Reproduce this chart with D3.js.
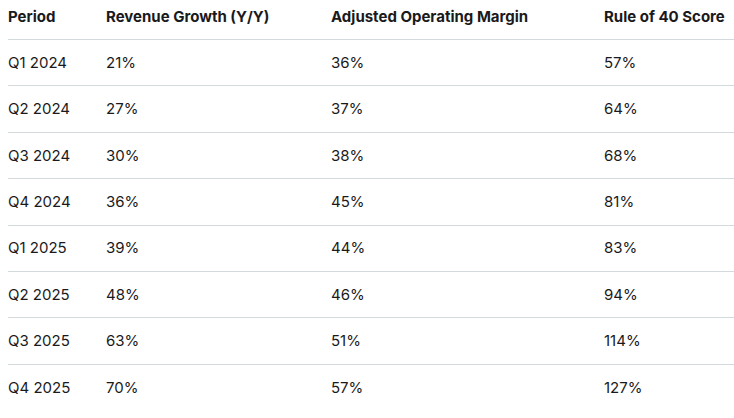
<!DOCTYPE html>
<html>
<head>
<meta charset="utf-8">
<script src="https://cdn.jsdelivr.net/npm/d3@7"></script>
<style>
  body { margin: 0; background: #fff; }
  text { font-family: Inter, "Noto Sans", sans-serif; fill: #1a1a1c; }
</style>
</head>
<body>
<script>
// Table data
const columns = ["Period", "Revenue Growth (Y/Y)", "Adjusted Operating Margin", "Rule of 40 Score"];
const periods = ["Q1 2024", "Q2 2024", "Q3 2024", "Q4 2024", "Q1 2025", "Q2 2025", "Q3 2025", "Q4 2025"];
const revenueGrowth = [21, 27, 30, 36, 39, 48, 63, 70];
const operatingMargin = [36, 37, 38, 45, 44, 46, 51, 57];
const ruleOf40 = [57, 64, 68, 81, 83, 94, 114, 127];

const rows = periods.map((p, i) => [p, revenueGrowth[i] + "%", operatingMargin[i] + "%", ruleOf40[i] + "%"]);

// Dimensions
const width = 734;
const height = 418;
const marginLeft = 8;
const headerHeight = 39;
const rowHeight = 46.4;

// Column x positions
const x = d3.scaleOrdinal()
  .domain(columns)
  .range([marginLeft, 106, 331, 604]);

// Row y positions
const y = d3.scaleBand()
  .domain(periods)
  .range([headerHeight, headerHeight + rowHeight * periods.length])
  .padding(0);

const svg = d3.select("body")
  .append("svg")
  .attr("width", width)
  .attr("height", height)
  .attr("viewBox", [0, 0, width, height]);

// Header
svg.append("g")
  .selectAll("text")
  .data(columns)
  .join("text")
  .attr("x", d => x(d))
  .attr("y", 16)
  .attr("dominant-baseline", "central")
  .style("font-size", "15px")
  .style("font-weight", 700)
  .text(d => d);

// Row separators
svg.append("g")
  .selectAll("line")
  .data(periods)
  .join("line")
  .attr("x1", marginLeft)
  .attr("x2", width)
  .attr("y1", d => Math.round(y(d)) + 0.5)
  .attr("y2", d => Math.round(y(d)) + 0.5)
  .attr("stroke", "#d3dade")
  .attr("stroke-width", 1);

// Body cells
const row = svg.append("g")
  .selectAll("g")
  .data(rows)
  .join("g")
  .attr("transform", d => `translate(0,${y(d[0]) + y.bandwidth() / 2})`);

row.selectAll("text")
  .data(d => d.map((v, j) => ({ col: columns[j], v })))
  .join("text")
  .attr("x", d => x(d.col))
  .attr("dominant-baseline", "central")
  .style("font-size", "15px")
  .text(d => d.v);
</script>
</body>
</html>
